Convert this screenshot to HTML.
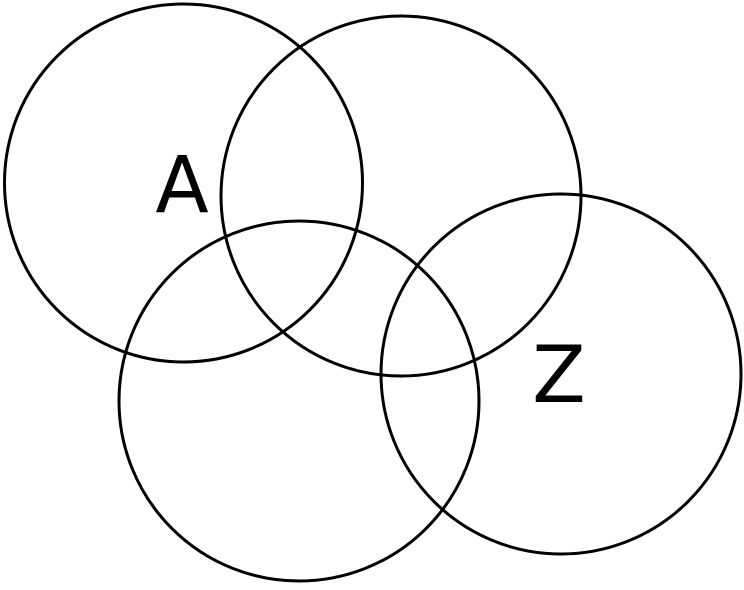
<!DOCTYPE html>
<html><head><style>html,body{margin:0;padding:0;background:#fff;}</style></head>
<body>
<svg width="744" height="585" viewBox="0 0 744 585" xmlns="http://www.w3.org/2000/svg">
<g fill="none" stroke="#000" stroke-width="3">
<circle cx="183.5" cy="183" r="179"/>
<circle cx="401" cy="196" r="180"/>
<circle cx="299" cy="401" r="180"/>
<circle cx="561" cy="374" r="180"/>
</g>
<g font-family="DejaVu Sans, Liberation Sans, sans-serif" font-size="78" fill="#000" text-anchor="middle">
<text x="182" y="212">A</text>
<text x="559" y="402">Z</text>
</g>
</svg>
</body></html>
